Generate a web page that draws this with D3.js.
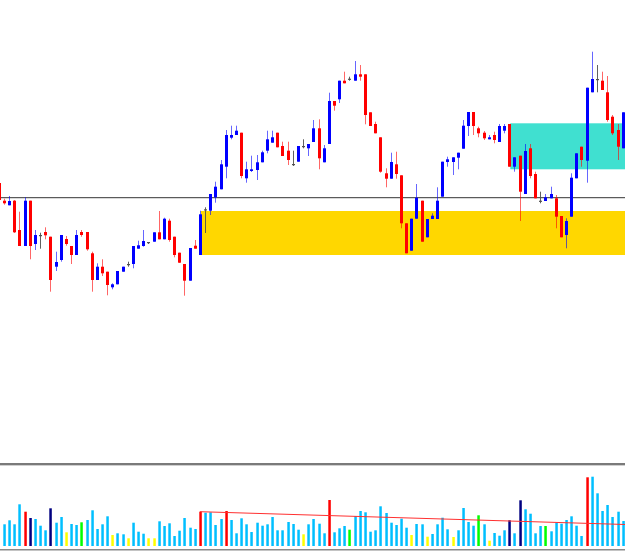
<!DOCTYPE html>
<html>
<head>
<meta charset="utf-8">
<script src="https://cdn.jsdelivr.net/npm/d3@7"></script>
<style>
  body { margin: 0; background: #fff; }
  svg { display: block; }
</style>
</head>
<body>
<div id="chart"></div>
<script>
// price data (bar 0 is the partly hidden bar at the left edge)
var opens = [317,299.3,294.7,299.3,270,254,299.3,256,265,268,263.3,233.3,240,261,254,245,268,268,246.7,220,
  233.3,228.3,212.7,215.7,228.3,236,236,251.3,254,258,258.3,267.7,260.7,279.3,263.3,247.3,236,219.3,254.3,245,
  290.7,289.3,302.7,310.7,333.3,362.3,365,367.3,321.7,329,330,337.7,349.3,357.3,367.3,354,349.3,336,338.3,354,
  351.7,358,371.7,337.7,356,399,400.7,419.3,421.3,419.3,425.7,425.7,387.7,376,362.7,326.7,321.3,335.7,324.7,276.7,
  249.3,281.3,299.3,262.7,281,281,303.3,338,338,342.3,351.3,374,388,371.7,367.3,360.7,365,358,369.3,376,
  333.3,344.3,306,351.7,326,299.3,299,301.7,301.7,284,265,283.3,321.7,353.3,339.3,407.7,421,419.3,407.7,383.3,
  370,351.7];
var closes = [300,296.7,299,267.7,254,299.3,254,265,265,264.7,220,238,265,256,245,265,265,250.7,220,233.3,
  226.7,215,215.7,229,233.3,236,254,254.7,259,258,267.7,260.7,281.3,260,245,237.3,219.3,252,251.3,285.7,
  290.7,306,313.3,335.7,365,365,369.3,324,330.7,330.7,337.7,347.7,360.7,362.7,352.7,344,340,336,354,354,
  356,371.7,341.7,351.7,399,394.3,419.3,416.7,421.3,425.7,423.3,385,374,366.7,328.3,321.3,338,326,276.7,246.7,
  281.3,302.3,258.3,281,284.3,299.3,338.3,340.7,342.7,347.3,374.3,388,374,366.7,361.7,362.7,360,374,374,333.3,
  342.7,308.3,349,324,301.7,299.3,302.7,306,283.3,262.7,279,322.3,346.7,340,412.3,421,421,410,380,366.7,
  353.3,387.7];
var highs = [318.3,301.3,304,300,288.3,302.7,299.3,270,267.3,272.7,263.3,248.3,265,264,254,270,270,268,248.3,236.7,
  240.7,228.3,216.7,229,233.3,238.3,254,259.3,270,258,267.7,289,282.3,281.3,263.3,247.3,236,252,260,289.3,
  292.7,306,318.3,340,370,374.3,374.3,367.3,338.3,344.3,345,349.3,369.3,369.3,367.3,358.3,358.3,349.3,354,360.7,
  356,380,380.7,355,407.3,399,419.3,428.3,423.3,439,435,425.7,387.7,378.3,362.7,331.7,347.3,348.3,324.7,276.7,
  281.3,316,299.3,281,286.7,312.7,338.3,343.3,342.7,347.3,380,388,388,373.3,369,365,368.3,376,376,376,
  342.7,344.3,356,356,328.3,308.3,306,313.3,305,284,281.7,326.7,346.7,353.3,412.3,448.3,435,428.3,424,385,
  376,387.7];
var lows = [298.3,295.3,294.7,267,254,254,240.7,250,251.3,260.7,208.3,229,238.3,254.3,236,245,263.3,249.3,208.3,220,
  224,204.7,210.7,215.7,228.3,233.3,231.7,251.3,253.3,256,258.3,260.7,260.7,258.3,242.7,237,204.3,219.3,251.3,245,
  267,285,297.3,310.7,321.7,360.7,365,321.7,317.3,328,320,337.7,346.7,357.3,352.7,344,335,334,338.3,351.7,
  344,358,330.7,337.7,356,389.3,397,416.7,419.3,419.3,419.3,375.7,374,366.7,327.3,312.7,321.3,321.3,271.7,246.7,
  249.3,281.3,258.3,262.7,281,281,303.3,333.3,325,330.7,351.3,364,365,362.7,360,360.7,356.7,358,366.7,333.3,
  328.3,279,306,321.7,301.7,296.7,299,301.7,271.7,262.7,251.7,283.3,321.7,333.3,317.3,407.7,407.7,410,378.3,365,
  340,351.7];

// tick volume, bar 0 has none
var volumes = [null,2170,2570,2170,4170,3430,2800,2700,2030,1570,3770,2330,2900,1370,2200,2100,2370,2600,3570,1700,
  2170,2970,1100,1270,1170,770,2330,1430,1230,770,770,2470,2000,2270,1000,1530,2800,1830,1700,3430,
  3330,3370,2100,2700,3500,2600,1270,2770,2170,1400,2330,2030,2170,2900,1570,1570,2400,2200,1630,1170,
  2170,2700,2230,1270,4600,1370,1770,2000,1630,3000,3500,3370,1430,1570,3970,3300,2330,2100,2730,1830,
  1100,2200,2170,930,1200,2170,2830,1670,900,1570,3800,2400,2030,3070,2170,530,1300,1030,1570,2570,
  1270,4570,3670,3230,1270,2000,2000,1470,2330,2230,2600,2970,2030,1000,6870,6930,5270,3500,4100,2900,
  3430,2500];
var redVol = [5,39,44,64,114];
var navyVol = [6,10,99,101];
var yellowVol = [13,22,25,29,30,59,80,83,88,95];
var greenVol = [16,68,93,106];

// zones, level and volume trend line
var supportZone = {from: 39, top: 289, bottom: 245};
var resistZone = {from: 99, top: 376.7, bottom: 330.7};
var level = 302.7;
var volTrend = [{i: 39, v: 3430}, {i: 121.5, v: 2150}];

var width = 625, height = 551;
var svg = d3.select("#chart").append("svg").attr("width", width).attr("height", height);

var x = d3.scaleLinear().domain([0, 121]).range([-1.15, 622.73]);
var y = d3.scaleLinear().domain([38, 500]).range([462, 0]);
var yv = d3.scaleLinear().domain([0, 9100]).range([546, 455]);

var candles = opens.map(function(o, i) {
  return {i: i, o: o, c: closes[i], h: highs[i], l: lows[i], v: volumes[i]};
});

// zones behind candles
svg.append("rect")
  .attr("x", x(supportZone.from) + 1)
  .attr("y", y(supportZone.top))
  .attr("width", width - x(supportZone.from))
  .attr("height", y(supportZone.bottom) - y(supportZone.top))
  .attr("fill", "#FFD700");
svg.append("rect")
  .attr("x", x(resistZone.from) + 1)
  .attr("y", y(resistZone.top))
  .attr("width", width - x(resistZone.from))
  .attr("height", y(resistZone.bottom) - y(resistZone.top))
  .attr("fill", "#40E0D0");

// horizontal level
var ly = Math.round(y(level)) + 0.5;
svg.append("line").attr("x1", 0).attr("x2", width).attr("y1", ly).attr("y2", ly)
  .attr("stroke", "#5a5a5a").attr("stroke-width", 1);
svg.append("line").attr("x1", 0).attr("x2", width).attr("y1", ly + 1).attr("y2", ly + 1)
  .attr("stroke", "#d8d8d8").attr("stroke-width", 1);

function candleColor(d) {
  if (d.c > d.o) return "#0000FF";
  if (d.c < d.o) return "#FF0000";
  return "#505050";
}

var g = svg.append("g");
var cg = g.selectAll("g.candle").data(candles).enter().append("g").attr("class", "candle");

cg.append("line")
  .attr("x1", function(d) { return Math.round(x(d.i)) + 0.5; })
  .attr("x2", function(d) { return Math.round(x(d.i)) + 0.5; })
  .attr("y1", function(d) { return y(d.h); })
  .attr("y2", function(d) { return y(d.l); })
  .attr("stroke", candleColor)
  .attr("stroke-opacity", function(d) { return d.c === d.o ? 0.9 : 0.6; })
  .attr("stroke-width", 1);

cg.append("rect")
  .attr("x", function(d) { return Math.round(x(d.i)) - 1; })
  .attr("width", 3)
  .attr("y", function(d) { return y(Math.max(d.o, d.c)); })
  .attr("height", function(d) { return Math.max(1.2, Math.abs(y(d.o) - y(d.c))); })
  .attr("fill", candleColor);

// panel separator and bottom border
svg.append("rect").attr("x", 0).attr("y", 463).attr("width", width).attr("height", 2).attr("fill", "#7a7a7a");
svg.append("rect").attr("x", 0).attr("y", 465).attr("width", width).attr("height", 1).attr("fill", "#cfcfcf");
svg.append("rect").attr("x", 0).attr("y", 549).attr("width", width).attr("height", 1.5).attr("fill", "#8a8a8a");

function volColor(d) {
  if (redVol.indexOf(d.i) >= 0) return "#FF0000";
  if (navyVol.indexOf(d.i) >= 0) return "#000080";
  if (yellowVol.indexOf(d.i) >= 0) return "#FFFF00";
  if (greenVol.indexOf(d.i) >= 0) return "#00FF00";
  return "#00BFFF";
}

svg.append("g").selectAll("rect")
  .data(candles.filter(function(d) { return d.v != null; }))
  .enter().append("rect")
  .attr("x", function(d) { return Math.round(x(d.i)) - 0.7; })
  .attr("width", 2.5)
  .attr("y", function(d) { return yv(d.v); })
  .attr("height", function(d) { return yv(0) - yv(d.v); })
  .attr("fill", volColor);

svg.append("path")
  .datum(volTrend)
  .attr("d", d3.line().x(function(d) { return x(d.i); }).y(function(d) { return yv(d.v); }))
  .attr("fill", "none")
  .attr("stroke", "#FF3030")
  .attr("stroke-width", 1);
</script>
</body>
</html>
